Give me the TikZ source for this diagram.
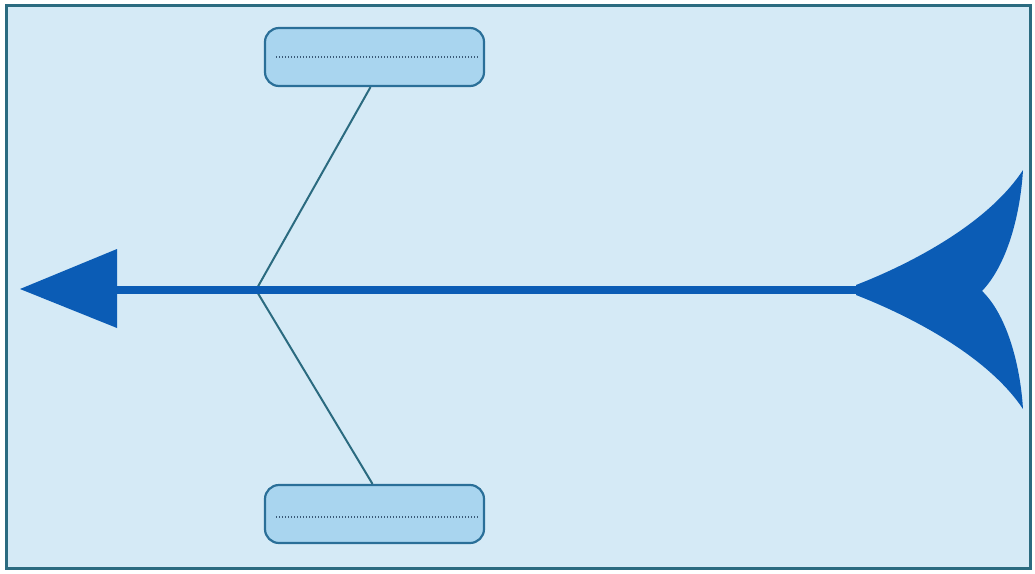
\documentclass[tikz,border=0pt]{standalone}
\begin{document}
\begin{tikzpicture}[x=1pt,y=-1pt,
  frame/.style={draw=framec,line width=3pt,fill=bgc},
  catbox/.style={draw=boxline,line width=2.2pt,fill=boxfill,rounded corners=14pt,minimum width=219pt,minimum height=58pt,inner sep=0pt},
  bone/.style={draw=framec,line width=2pt},
  spine/.style={draw=spinec,line width=8.5pt},
  dotline/.style={draw=dotc,line width=1.3pt,dash pattern=on 1.3pt off 1.7pt}]
\definecolor{framec}{HTML}{2B6B80}
\definecolor{bgc}{HTML}{D5EAF6}
\definecolor{boxfill}{HTML}{A9D5EF}
\definecolor{boxline}{HTML}{2A6F98}
\definecolor{spinec}{HTML}{0B5CB5}
\definecolor{dotc}{HTML}{3A5A78}
\useasboundingbox (0,0) rectangle (1035,573);
\fill[white] (0,0) rectangle (1035,573);
\path[frame] (6,5) rectangle (1030,568);
% boxes
\node[catbox] (top) at (374.5,57) {};
\node[catbox] (bot) at (374.5,514) {};
\draw[dotline] ([xshift=12pt]top.west) -- ([xshift=-6pt]top.east);
\draw[dotline] ([xshift=12pt,yshift=-3pt]bot.west) -- ([xshift=-6pt,yshift=-3pt]bot.east);
% junction and bones
\coordinate (joint) at (256,290);
\draw[bone] (joint) -- ([xshift=-4pt]top.south);
\draw[bone] (joint) -- ([xshift=-2pt]bot.north);
% spine
\coordinate (head) at (115,290);
\coordinate (tail) at (862,290);
\draw[spine] (head) -- (tail);
\fill[spinec] (20,289) -- (117,249) -- (117,328) -- cycle;
% fish tail
\fill[spinec] (856,285)
  .. controls (900,268) and (985,228) .. (1023,170)
  .. controls (1020,218) and (1006,266) .. (982,291)
  .. controls (1006,314) and (1020,362) .. (1023,409)
  .. controls (985,352) and (900,312) .. (856,295) -- cycle;
\end{tikzpicture}
\end{document}
